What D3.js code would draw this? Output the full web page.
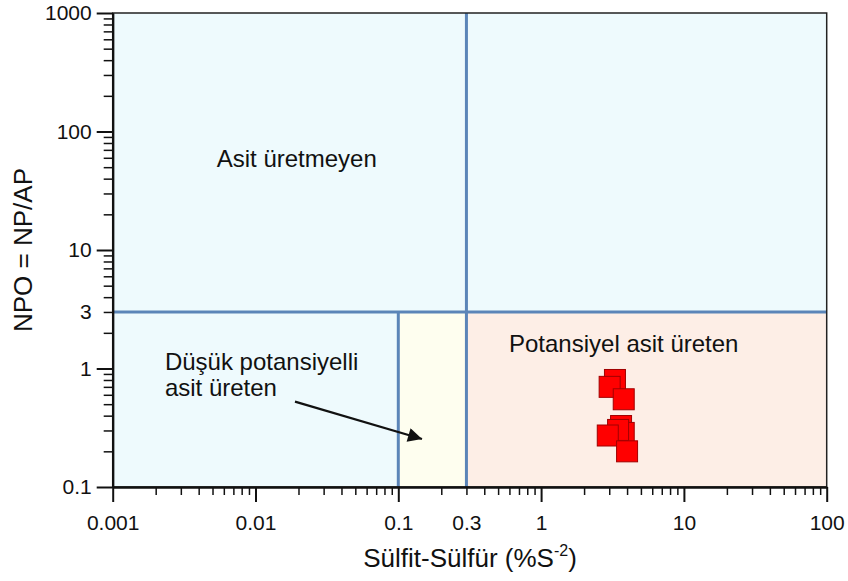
<!DOCTYPE html>
<html>

<head>
    <meta charset="utf-8" />
    <title>NPO - Sulfit</title>
    <script src="https://d3js.org/d3.v7.min.js"></script>
    <style>
        body { margin: 0; background: #fff; }
        svg { display: block; font-family: "Liberation Sans", Arial, sans-serif; }
    </style>
</head>

<body>
    <svg id="chart" width="848" height="581"></svg>

    <script>

        // sample values (sulfide %S, NPO)
        var sulfide = [3.29, 3.02, 3.79, 3.63, 3.79, 3.46, 2.93, 4.0];
        var npo = [0.80, 0.70, 0.55, 0.327, 0.286, 0.303, 0.272, 0.20];

        var xLabels = [0.001, 0.01, 0.1, 0.3, 1, 10, 100];
        var yLabels = [0.1, 1, 3, 10, 100, 1000];

        // class limits
        var npoLimit = 3;
        var sLimits = [0.1, 0.3];

        var plotLeft = 112.7, plotRight = 826.7, plotTop = 13, plotBottom = 487;

        var svg = d3.select("#chart");

        var x = d3.scaleLog().domain([0.001, 100]).range([plotLeft, plotRight]);
        var y = d3.scaleLog().domain([0.1, 1000]).range([plotBottom, plotTop]);

        function minors(k0, k1) {
            var out = [];
            for (var k = k0; k <= k1; k++) {
                for (var m = 2; m <= 9; m++) {
                    out.push(+(m * Math.pow(10, k)).toPrecision(3));
                }
            }
            return out;
        }
        function majors(k0, k1) {
            var out = [];
            for (var k = k0; k <= k1; k++) out.push(+Math.pow(10, k).toPrecision(3));
            return out;
        }

        // background zones
        var zones = [
            { x0: 0.001, x1: 100, y0: npoLimit, y1: 1000, fill: "#eefafd" },
            { x0: 0.001, x1: sLimits[0], y0: 0.1, y1: npoLimit, fill: "#eefafd" },
            { x0: sLimits[0], x1: sLimits[1], y0: 0.1, y1: npoLimit, fill: "#fefeef" },
            { x0: sLimits[1], x1: 100, y0: 0.1, y1: npoLimit, fill: "#fdeee6" }
        ];

        svg.selectAll("rect.zone")
            .data(zones)
            .enter().append("rect")
            .attr("class", "zone")
            .attr("x", function (d) { return x(d.x0); })
            .attr("y", function (d) { return y(d.y1); })
            .attr("width", function (d) { return x(d.x1) - x(d.x0); })
            .attr("height", function (d) { return y(d.y0) - y(d.y1); })
            .attr("fill", function (d) { return d.fill; });

        // dividing lines
        var lineColor = "#5b85b8";
        svg.append("line")
            .attr("x1", x(0.001)).attr("x2", x(100))
            .attr("y1", y(npoLimit)).attr("y2", y(npoLimit))
            .attr("stroke", lineColor).attr("stroke-width", 3);
        svg.append("line")
            .attr("x1", x(sLimits[1])).attr("x2", x(sLimits[1]))
            .attr("y1", y(0.1)).attr("y2", y(1000))
            .attr("stroke", lineColor).attr("stroke-width", 3);
        svg.append("line")
            .attr("x1", x(sLimits[0])).attr("x2", x(sLimits[0]))
            .attr("y1", y(0.1)).attr("y2", y(npoLimit))
            .attr("stroke", lineColor).attr("stroke-width", 3);

        // frame
        svg.append("rect")
            .attr("x", plotLeft).attr("y", plotTop)
            .attr("width", plotRight - plotLeft).attr("height", plotBottom - plotTop)
            .attr("fill", "none").attr("stroke", "#222").attr("stroke-width", 1.5);

        // axes
        function styleAxis(g, w) {
            g.select(".domain").attr("stroke", "#111").attr("stroke-width", 2);
            g.selectAll(".tick line").attr("stroke", "#111").attr("stroke-width", w);
            g.selectAll("text").attr("fill", "#111").style("font-size", "21px");
        }

        svg.append("g").attr("transform", "translate(0," + plotBottom + ")")
            .call(d3.axisBottom(x).tickValues(minors(-3, 1)).tickSize(8).tickSizeOuter(0).tickFormat(""))
            .call(styleAxis, 1.5);
        svg.append("g").attr("transform", "translate(0," + plotBottom + ")")
            .call(d3.axisBottom(x).tickValues(majors(-3, 2)).tickSize(15).tickSizeOuter(0).tickFormat(""))
            .call(styleAxis, 2);
        svg.append("g").attr("transform", "translate(0," + plotBottom + ")")
            .call(d3.axisBottom(x).tickValues(xLabels).tickSize(0).tickPadding(28).tickSizeOuter(0).tickFormat(d3.format("~g")))
            .call(styleAxis, 0)
            .select(".domain").remove();

        svg.append("g").attr("transform", "translate(" + plotLeft + ",0)")
            .call(d3.axisLeft(y).tickValues(minors(-1, 2)).tickSize(9).tickSizeOuter(0).tickFormat(""))
            .call(styleAxis, 1.5);
        svg.append("g").attr("transform", "translate(" + plotLeft + ",0)")
            .call(d3.axisLeft(y).tickValues(majors(-1, 3)).tickSize(16).tickSizeOuter(0).tickFormat(""))
            .call(styleAxis, 2);
        svg.append("g").attr("transform", "translate(" + plotLeft + ",0)")
            .call(d3.axisLeft(y).tickValues(yLabels).tickSize(0).tickPadding(21).tickSizeOuter(0).tickFormat(d3.format("~g")))
            .call(styleAxis, 0)
            .select(".domain").remove();

        // axis titles
        var xt = svg.append("text")
            .attr("x", 470).attr("y", 567)
            .attr("text-anchor", "middle")
            .style("font-size", "26px").attr("fill", "#111");
        xt.append("tspan").text("Sülfit-Sülfür (%S");
        xt.append("tspan").attr("dy", -11).style("font-size", "16px").text("-2");
        xt.append("tspan").attr("dy", 11).text(")");

        svg.append("text")
            .attr("transform", "translate(32,250) rotate(-90)")
            .attr("text-anchor", "middle")
            .style("font-size", "26px").attr("fill", "#111")
            .text("NPO = NP/AP");

        // zone labels
        svg.append("text")
            .attr("x", x(0.00535)).attr("y", y(50.5))
            .style("font-size", "24px").attr("fill", "#111")
            .text("Asit üretmeyen");
        svg.append("text")
            .attr("x", x(0.596)).attr("y", y(1.39))
            .style("font-size", "24px").attr("fill", "#111")
            .text("Potansiyel asit üreten");
        var dl = svg.append("text")
            .attr("x", x(0.00232)).attr("y", y(0.98))
            .style("font-size", "24px").attr("fill", "#111");
        dl.append("tspan").text("Düşük potansiyelli");
        dl.append("tspan").attr("x", x(0.00232)).attr("dy", 26).text("asit üreten");

        // arrow
        svg.append("defs").append("marker")
            .attr("id", "head")
            .attr("viewBox", "0 0 10 10")
            .attr("refX", 10).attr("refY", 5)
            .attr("markerWidth", 19).attr("markerHeight", 14)
            .attr("markerUnits", "userSpaceOnUse")
            .attr("orient", "auto")
            .append("path").attr("d", "M0,0 L10,5 L0,10 Z").attr("fill", "#111");
        svg.append("line")
            .attr("x1", x(0.0189)).attr("y1", y(0.525))
            .attr("x2", x(0.1466)).attr("y2", y(0.254))
            .attr("stroke", "#111").attr("stroke-width", 2.2)
            .attr("marker-end", "url(#head)");

        // samples
        var points = sulfide.map(function (s, i) { return { s: s, n: npo[i] }; });
        var size = 21;
        svg.selectAll("rect.pt")
            .data(points)
            .enter().append("rect")
            .attr("class", "pt")
            .attr("x", function (d) { return x(d.s) - size / 2; })
            .attr("y", function (d) { return y(d.n) - size / 2; })
            .attr("width", size).attr("height", size)
            .attr("fill", "#ff0000")
            .attr("stroke", "#a00000").attr("stroke-width", 1);

    </script>

</body>

</html>
